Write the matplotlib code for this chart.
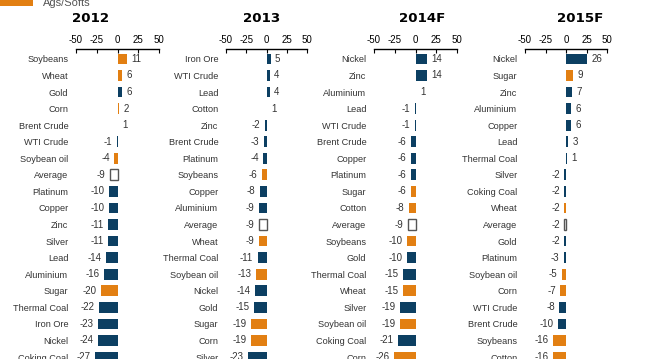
import matplotlib
matplotlib.use('Agg')
import matplotlib.pyplot as plt
from matplotlib.patches import Rectangle

# Data (bottom rows are cut by the frame)
ags = ['Soybeans', 'Wheat', 'Corn', 'Soybean oil', 'Sugar', 'Cotton']

names_2012 = ['Soybeans', 'Wheat', 'Gold', 'Corn', 'Brent Crude', 'WTI Crude', 'Soybean oil',
              'Average', 'Platinum', 'Copper', 'Zinc', 'Silver', 'Lead', 'Aluminium', 'Sugar',
              'Thermal Coal', 'Iron Ore', 'Nickel', 'Coking Coal']
vals_2012 = [11, 6, 6, 2, 1, -1, -4, -9, -10, -10, -11, -11, -14, -16, -20, -22, -23, -24, -27]

names_2013 = ['Iron Ore', 'WTI Crude', 'Lead', 'Cotton', 'Zinc', 'Brent Crude', 'Platinum',
              'Soybeans', 'Copper', 'Aluminium', 'Average', 'Wheat', 'Thermal Coal',
              'Soybean oil', 'Nickel', 'Gold', 'Sugar', 'Corn', 'Silver']
vals_2013 = [5, 4, 4, 1, -2, -3, -4, -6, -8, -9, -9, -9, -11, -13, -14, -15, -19, -19, -23]

names_2014 = ['Nickel', 'Zinc', 'Aluminium', 'Lead', 'WTI Crude', 'Brent Crude', 'Copper',
              'Platinum', 'Sugar', 'Cotton', 'Average', 'Soybeans', 'Gold', 'Thermal Coal',
              'Wheat', 'Silver', 'Soybean oil', 'Coking Coal', 'Corn']
vals_2014 = [14, 14, 1, -1, -1, -6, -6, -6, -6, -8, -9, -10, -10, -15, -15, -19, -19, -21, -26]

names_2015 = ['Nickel', 'Sugar', 'Zinc', 'Aluminium', 'Copper', 'Lead', 'Thermal Coal', 'Silver',
              'Coking Coal', 'Wheat', 'Average', 'Gold', 'Platinum', 'Soybean oil', 'Corn',
              'WTI Crude', 'Brent Crude', 'Soybeans', 'Cotton']
vals_2015 = [26, 9, 7, 6, 6, 3, 1, -2, -2, -2, -2, -2, -3, -5, -7, -8, -10, -16, -16]

titles = ['2012', '2013', '2014F', '2015F']
ticks = [-50, -25, 0, 25, 50]

# Style
orange = '#E27F12'
navy = '#0C3F62'
txt = '#333333'
lab_font = 'Liberation Sans'
fs_lab = 6.6
fs_num = 7.0
W, H = 660, 359

panels = [(names_2012, vals_2012), (names_2013, vals_2013),
          (names_2014, vals_2014), (names_2015, vals_2015)]
# axis extents in pixels (-50 .. 50) and title centres
ax_px = [(76, 159), (226, 307), (374, 457), (525, 607)]
title_x = [91, 262, 422, 580]

fig = plt.figure(figsize=(W / 100, H / 100), dpi=100)
fig.patch.set_facecolor('white')

axis_top = 49  # pixel row of the axis line
for k, (names, vals) in enumerate(panels):
    x0, x1 = ax_px[k]
    ax = fig.add_axes([x0 / W, 0, (x1 - x0) / W, (H - axis_top) / H])
    rows = list(range(len(names)))
    for r, n, v in zip(rows, names, vals):
        if n == 'Average':
            ax.barh(r, v, height=0.65, color='white', edgecolor='#555555', linewidth=1)
        else:
            c = orange if n in ags else navy
            ax.barh(r, v, height=0.65, color=c, linewidth=0)
        if v >= 0:
            ax.annotate(str(v), (v, r), xytext=(3.2, 0), textcoords='offset points',
                        ha='left', va='center', fontsize=fs_num, color=txt, family=lab_font)
        else:
            ax.annotate(str(v), (v, r), xytext=(-3.2, 0), textcoords='offset points',
                        ha='right', va='center', fontsize=fs_num, color=txt, family=lab_font)
    ax.set_xlim(-50, 50)
    ax.set_ylim(18.12, -0.6)
    ax.set_yticks(rows)
    ax.set_yticklabels(names, family=lab_font, fontsize=fs_lab, color=txt)
    ax.tick_params(axis='y', length=0, pad=5.5)
    ax.xaxis.tick_top()
    ax.set_xticks(ticks)
    ax.set_xticklabels([str(t) for t in ticks], family=lab_font, fontsize=fs_num)
    ax.tick_params(axis='x', direction='in', length=3, width=0.8, pad=3)
    for s in ['left', 'right', 'bottom']:
        ax.spines[s].set_visible(False)
    ax.spines['top'].set_linewidth(1)
    ax.patch.set_alpha(0)
    fig.text(title_x[k] / W, 1 - 18 / H, titles[k], ha='center', va='center',
             fontsize=9.6, fontweight='bold', family='DejaVu Sans')

# legend remnant at the top edge
fig.patches.append(Rectangle((0, 1 - 6 / H), 33 / W, 8 / H, transform=fig.transFigure,
                             color=orange, linewidth=0))
fig.text(43 / W, 1 - 6 / H, 'Ags/Softs', ha='left', va='baseline', fontsize=8,
         color='#555555', family=lab_font)

fig.savefig('out.png', dpi=100)
